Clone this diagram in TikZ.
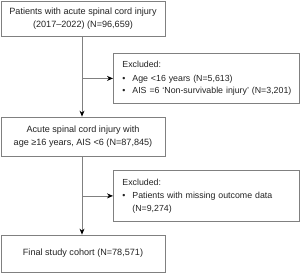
\documentclass[tikz,border=0pt]{standalone}
\usepackage{fontspec}
\setmainfont{Liberation Sans}
\usetikzlibrary{arrows.meta}
\definecolor{edgegray}{HTML}{808080}
\definecolor{txt}{HTML}{222222}
\begin{document}
\begin{tikzpicture}[x=1pt,y=-1pt,
  box/.style={draw=edgegray,line width=0.8pt,inner sep=0pt,text=txt,
    font=\fontsize{9.1}{12.3}\selectfont},
  mainbox/.style={box,align=center,minimum width=164pt},
  exbox/.style={box,align=left,anchor=north west,minimum width=186pt,
    text width=168pt,inner xsep=9pt,font=\fontsize{8.8}{12.3}\selectfont},
  arr/.style={draw=edgegray,line width=0.8pt,-{Stealth[length=6pt,width=5pt,color=black]}}]
\useasboundingbox (0,0) rectangle (300,274);
\node[mainbox,minimum height=35pt] (b1) at (83,18.5)
  {Patients with acute spinal cord injury\\(2017--2022) (N=96,659)};
\node[exbox,minimum height=50pt] (e1) at (113,53)
  {Excluded:\\[1.5pt]
   \mbox{\makebox[10pt][l]{\textbullet}Age <16 years (N=5,613)}\\
   \mbox{\makebox[10pt][l]{\textbullet}AIS =6 ‘Non-survivable injury’ (N=3,201)}};
\node[mainbox,minimum height=39pt] (b2) at (83,136.5)
  {Acute spinal cord injury with\\age ≥16 years, AIS <6 (N=87,845)};
\node[exbox,minimum height=51pt] (e2) at (113,170)
  {Excluded:\\[1.5pt]
   \mbox{\makebox[10pt][l]{\textbullet}Patients with missing outcome data}\\
   \hspace*{10pt}(N=9,274)};
\node[mainbox,minimum height=37pt] (b3) at (83,253.5)
  {Final study cohort (N=78,571)};
\coordinate (v) at (82,0);
\draw[arr] (b1.south -| v) -- (b2.north -| v);
\draw[arr] (b2.south -| v) -- (b3.north -| v);
\draw[arr] (v |- e1.west) -- (e1.west);
\draw[arr] (v |- e2.west) -- (e2.west);
\end{tikzpicture}
\end{document}
